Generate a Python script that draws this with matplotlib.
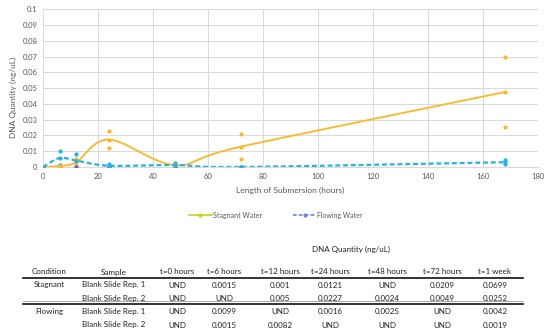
import numpy as np
import matplotlib
matplotlib.use('Agg')
import matplotlib.pyplot as plt
from matplotlib.lines import Line2D

plt.rcParams['font.family'] = ['Lato', 'DejaVu Sans']

# ---- data (UND plotted as 0) ----
hours = [0, 6, 12, 24, 48, 72, 168]
stag_rep1 = [0, 0.0015, 0.001, 0.0121, 0, 0.0209, 0.0699]
stag_rep2 = [0, 0, 0.005, 0.0227, 0.0024, 0.0049, 0.0252]
flow_rep1 = [0, 0.0099, 0, 0.0016, 0.0025, 0, 0.0042]
flow_rep2 = [0, 0.0015, 0.0082, 0, 0, 0, 0.0019]
und_hours = [0, 12, 24, 48]
und_vals = [0, 0, 0, 0]

stag_mean = [(a + b) / 2 for a, b in zip(stag_rep1, stag_rep2)]
flow_mean = [(a + b) / 2 for a, b in zip(flow_rep1, flow_rep2)]

table_title = 'DNA Quantity (ng/uL)'
col_headers = ['Condition', 'Sample', 't=0 hours', 't=6 hours', 't=12 hours',
               't=24 hours', 't=48 hours', 't=72 hours', 't=1 week']
table_rows = [
    ['Stagnant', 'Blank Slide Rep. 1', 'UND', '0.0015', '0.001', '0.0121', 'UND', '0.0209', '0.0699'],
    ['', 'Blank Slide Rep. 2', 'UND', 'UND', '0.005', '0.0227', '0.0024', '0.0049', '0.0252'],
    ['Flowing', 'Blank Slide Rep. 1', 'UND', '0.0099', 'UND', '0.0016', '0.0025', 'UND', '0.0042'],
    ['', 'Blank Slide Rep. 2', 'UND', '0.0015', '0.0082', 'UND', 'UND', 'UND', '0.0019'],
]

ORANGE = '#FFB624'
CYAN = '#22B4E2'
PURPLE = '#7B5CD6'

W, H = 550, 334


def px(x, y):
    # pixel coords (top-left origin) -> figure fraction
    return x / W, 1 - y / H


def smooth(xs, ys, n=40):
    # Excel-style smoothed line: cubic bezier with catmull-rom control points
    pts = np.column_stack([xs, ys]).astype(float)
    out = [pts[0]]
    for i in range(len(pts) - 1):
        p0 = pts[i - 1] if i > 0 else pts[i]
        p1, p2 = pts[i], pts[i + 1]
        p3 = pts[i + 2] if i + 2 < len(pts) else pts[i + 1]
        c1 = p1 + (p2 - p0) / 6
        c2 = p2 - (p3 - p1) / 6
        t = np.linspace(0, 1, n)[1:, None]
        seg = ((1 - t) ** 3) * p1 + 3 * ((1 - t) ** 2) * t * c1 + 3 * (1 - t) * t ** 2 * c2 + t ** 3 * p2
        out.extend(seg)
    out = np.array(out)
    return out[:, 0], out[:, 1]


fig = plt.figure(figsize=(5.5, 3.34), dpi=100)
l, t = px(43, 9.3)
r, b = px(538, 167)
ax = fig.add_axes([l, b, r - l, t - b])

ax.set_xlim(0, 180)
ax.set_ylim(0, 0.1)
ax.set_xticks(np.arange(0, 181, 20))
ax.set_yticks(np.arange(0, 0.101, 0.01))
ax.set_yticklabels(['0'] + ['%g' % v for v in np.arange(0.01, 0.101, 0.01).round(2)])
ax.grid(True, color='#d9d9d9', lw=0.7)
ax.set_axisbelow(True)
for s in ['top', 'right', 'left']:
    ax.spines[s].set_visible(False)
ax.spines['bottom'].set_color('#d9d9d9')
ax.tick_params(length=0, labelsize=5.5, colors='#595959', pad=4)

# replicate points
ax.scatter(hours * 2, stag_rep1 + stag_rep2, s=9, color=ORANGE, zorder=3, lw=0)
ax.scatter(hours * 2, flow_rep1 + flow_rep2, s=9, color=CYAN, zorder=3, lw=0)
ax.scatter(und_hours, und_vals, s=9, color=PURPLE, zorder=4, lw=0)

# smoothed mean lines
sx, sy = smooth(hours, stag_mean)
ax.plot(sx, sy, color=ORANGE, lw=1.3, zorder=3)
ax.scatter(hours, stag_mean, s=9, color=ORANGE, zorder=4, lw=0)
fx, fy = smooth(hours, flow_mean)
ax.plot(fx, fy, color=CYAN, lw=1.6, ls=(0, (2.2, 1.3)), zorder=3)
ax.scatter(hours, flow_mean, s=9, color=CYAN, zorder=4, lw=0)

fig.text(*px(290, 190), 'Length of Submersion (hours)', ha='center', va='center',
         fontsize=6, color='#595959')
fig.text(*px(13, 97), 'DNA Quantity (ng/uL)', ha='center', va='center',
         fontsize=6, color='#595959', rotation=90)

# legend
handles = [Line2D([], [], color='#C9D21E', lw=1.2, marker='o', ms=2),
           Line2D([], [], color='#6A7FE8', lw=1.2, ls=(0, (2.2, 1.3)), marker='o', ms=2)]
fig.legend(handles, ['Stagnant Water', 'Flowing Water'], loc='center',
           bbox_to_anchor=px(276, 215), ncol=2, frameon=False, fontsize=5,
           handlelength=3.2, handletextpad=0.2, columnspacing=4.5,
           labelcolor='#595959')

# table
fs = 5.8
fig.text(*px(351, 249), table_title, ha='center', va='center', fontsize=fs, color='#222222')
col_x = [49, 114, 177, 224, 280, 330, 387, 442, 495]
header_y = 272
row_y = [285, 298.5, 311.5, 325]
for x, txt in zip(col_x, col_headers):
    fig.text(*px(x, header_y), txt, ha='center', va='center', fontsize=fs, color='#222222')
for y, row in zip(row_y, table_rows):
    for x, txt in zip(col_x, row):
        fig.text(*px(x, y), txt, ha='center', va='center', fontsize=fs, color='#222222')

x0, _ = px(23, 0)
x1, _ = px(523, 0)
for y, lw, c in [(277.5, 1.2, '#111111'), (300.5, 0.5, '#888888'), (303.5, 1.2, '#111111')]:
    _, yy = px(0, y)
    fig.add_artist(Line2D([x0, x1], [yy, yy], color=c, lw=lw))

fig.savefig('out.png', dpi=100)
